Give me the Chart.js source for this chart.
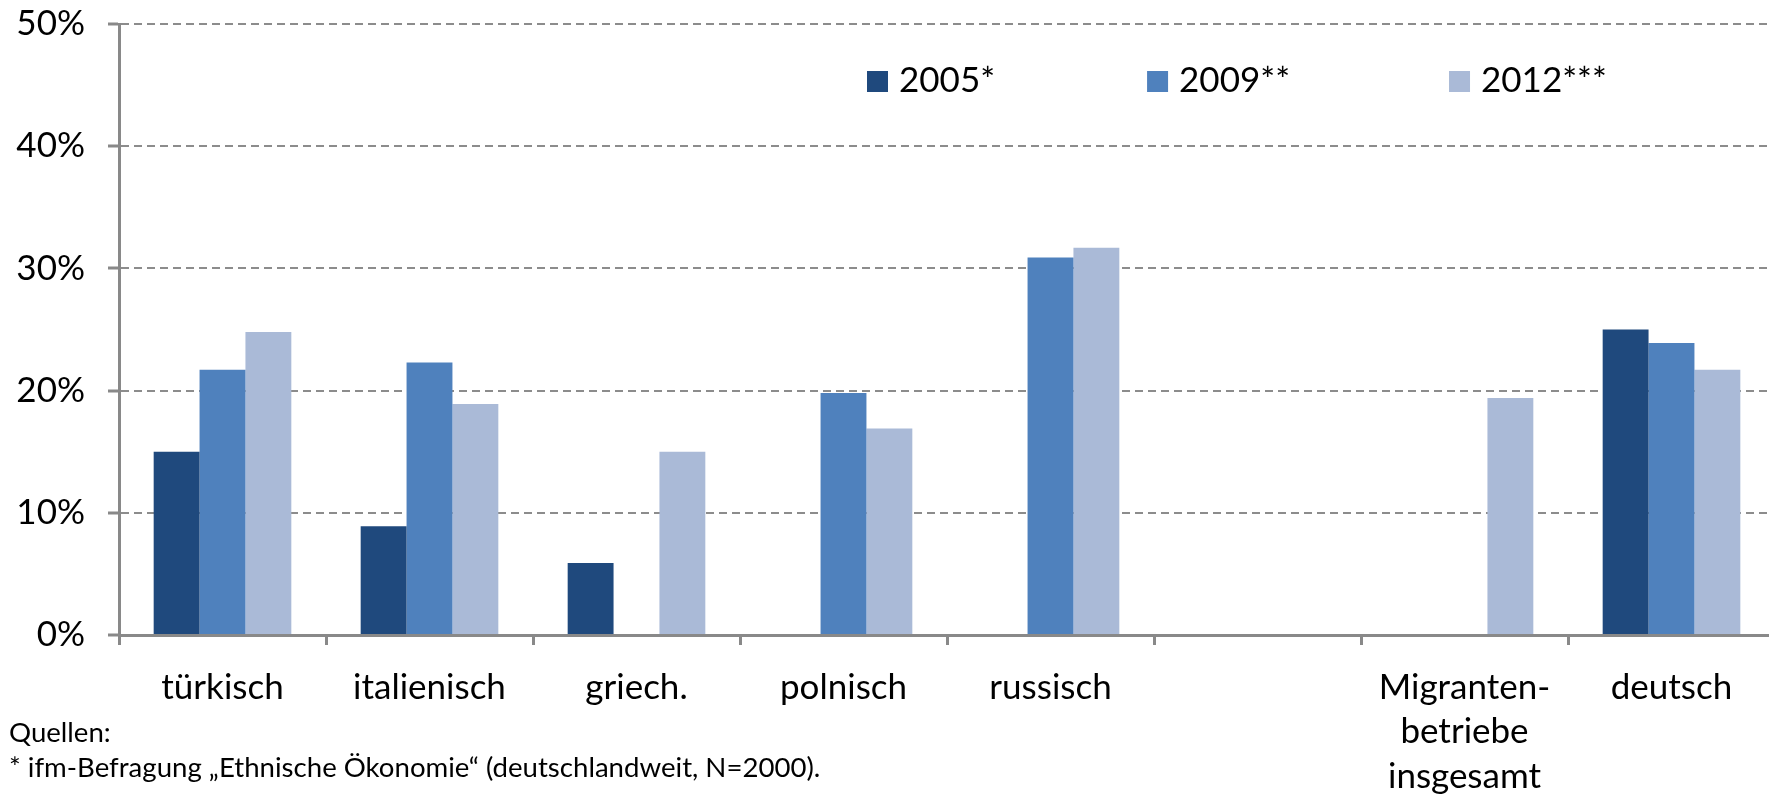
<!DOCTYPE html>
<html>
<head>
<meta charset="utf-8">
<script src="https://cdn.jsdelivr.net/npm/chart.js@4.4.0/dist/chart.umd.min.js"></script>
<style>
  html, body { margin: 0; padding: 0; background: #fff; overflow: hidden; }
  #wrap { position: relative; width: 1769px; height: 794px; overflow: hidden; }
  #chart { position: absolute; left: 0; top: 0; }
  .note { position: absolute; left: 9px; font-family: Lato, sans-serif; font-size: 27.6px; color: #000; white-space: nowrap; line-height: 1; }
</style>
</head>
<body>
<div id="wrap">
  <canvas id="chart" width="1775" height="794"></canvas>
  <div class="note" style="top:718px">Quellen:</div>
  <div class="note" style="top:753px">* ifm-Befragung „Ethnische Ökonomie“ (deutschlandweit, N=2000).</div>
</div>
<script>
// categories and values (percent)
const categories = ['türkisch', 'italienisch', 'griech.', 'polnisch', 'russisch', '', ['Migranten-', 'betriebe', 'insgesamt'], 'deutsch'];
const seriesNames = ['2005*', '2009**', '2012***'];
const values2005 = [15, 8.9, 5.9, null, null, null, null, 25];
const values2009 = [21.7, 22.3, null, 19.8, 30.9, null, null, 23.9];
const values2012 = [24.8, 18.9, 15, 16.9, 31.7, null, 19.4, 21.7];
const yTicks = [0, 10, 20, 30, 40, 50];

const colors = ['#1F497D', '#4F81BD', '#AABAD7'];
const axisGray = '#898989';

Chart.defaults.font.family = 'Lato, sans-serif';
Chart.defaults.color = '#000';

// legend sits inside the plot, top right
const insideLegend = {
  id: 'insideLegend',
  afterDraw(chart) {
    const ctx = chart.ctx;
    const area = chart.chartArea;
    ctx.save();
    ctx.font = '35px Lato, sans-serif';
    ctx.textBaseline = 'middle';
    let x = area.left + 748;
    const y = area.top + 57;
    chart.data.datasets.forEach((ds, i) => {
      ctx.fillStyle = ds.backgroundColor;
      ctx.fillRect(x, y - 10, 21, 21);
      ctx.fillStyle = '#000';
      ctx.fillText(ds.label, x + 32, y);
      x += 32 + ctx.measureText(ds.label).width + (i === 0 ? 152 : 159);
    });
    ctx.restore();
  }
};

const seriesData = [values2005, values2009, values2012];

new Chart(document.getElementById('chart'), {
  type: 'bar',
  data: {
    labels: categories,
    datasets: seriesNames.map((name, i) => ({
      label: name,
      data: seriesData[i],
      backgroundColor: colors[i],
      borderWidth: 0,
      categoryPercentage: 0.665,
      barPercentage: 1
    }))
  },
  options: {
    responsive: false,
    animation: false,
    layout: { padding: { top: 24, right: 0, left: 0, bottom: 0 } },
    plugins: {
      legend: { display: false },
      tooltip: { enabled: false }
    },
    scales: {
      x: {
        afterFit: s => { s.height = 159; s.paddingLeft = 0; s.paddingRight = 0; },
        grid: {
          offset: true,
          drawOnChartArea: false,
          drawTicks: true,
          tickLength: 10,
          tickWidth: 3,
          tickColor: axisGray
        },
        border: { display: true, color: axisGray, width: 3 },
        ticks: {
          font: { size: 35, lineHeight: 1.28 },
          padding: 20,
          maxRotation: 0,
          autoSkip: false
        }
      },
      y: {
        min: 0,
        max: 50,
        afterFit: s => { s.width = 119; s.paddingTop = 0; s.paddingBottom = 0; },
        afterBuildTicks: s => { s.ticks = yTicks.map(v => ({ value: v })); },
        grid: {
          color: '#8c8c8c',
          lineWidth: 2,
          drawTicks: true,
          tickLength: 11,
          tickWidth: 3,
          tickColor: axisGray
        },
        border: { display: true, color: axisGray, width: 3, dash: [8, 5] },
        ticks: {
          font: { size: 35 },
          padding: 23,
          callback: v => v + '%'
        }
      }
    }
  },
  plugins: [insideLegend]
});
</script>
</body>
</html>
